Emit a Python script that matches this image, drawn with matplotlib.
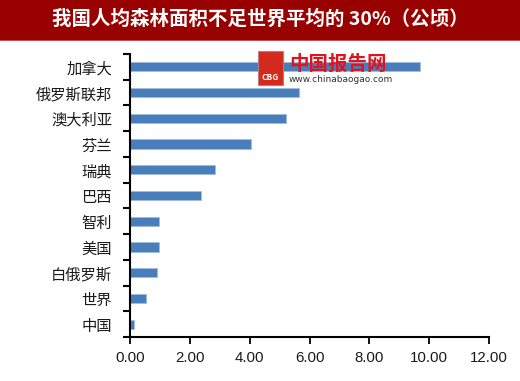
import matplotlib
matplotlib.use("Agg")
import matplotlib.pyplot as plt
from matplotlib.patches import Rectangle
import numpy as np

plt.rcParams['font.family'] = ['Noto Sans CJK SC', 'DejaVu Sans']

title = "我国人均森林面积不足世界平均的 30%（公顷）"
categories = ["加拿大", "俄罗斯联邦", "澳大利亚", "芬兰", "瑞典", "巴西",
              "智利", "美国", "白俄罗斯", "世界", "中国"]
values = [9.68, 5.65, 5.23, 4.05, 2.85, 2.36, 0.97, 0.96, 0.89, 0.52, 0.12]
xticks = [0, 2, 4, 6, 8, 10, 12]
xticklabels = ["0.00", "2.00", "4.00", "6.00", "8.00", "10.00", "12.00"]

W, H = 520, 381
fig = plt.figure(figsize=(W / 100, H / 100), dpi=100)
fig.patch.set_facecolor("white")

# title bar
fig.patches.append(Rectangle((0, 1 - 40 / H), 1, 40 / H, transform=fig.transFigure,
                             facecolor="#990000", edgecolor="none", zorder=0))
fig.patches.append(Rectangle((0, 1 - 41 / H), 1, 1.2 / H, transform=fig.transFigure,
                             facecolor="#c0504d", edgecolor="none", zorder=0))
fig.text(0.5, 1 - 19 / H, title, color="white", fontsize=14, fontweight="bold",
         ha="center", va="center")

ax = fig.add_axes([130 / W, 44 / H, (489 - 130) / W, (337 - 54) / H])
n = len(categories)
ypos = np.arange(n)
ax.barh(ypos, values, height=0.36, color="#4a7ebb", edgecolor="#9fbde0", linewidth=0.6)
ax.set_ylim(n - 0.5, -0.5)
ax.set_xlim(0, 12)

ax.set_yticks(ypos)
ax.set_yticklabels(categories, fontsize=11, color="#1a1a1a")
ax.tick_params(axis="y", which="major", length=0, pad=13)
ax.set_yticks(np.arange(-0.5, n, 1), minor=True)
ax.tick_params(axis="y", which="minor", length=5, width=1.5, direction="out", color="black")

ax.set_xticks(xticks)
ax.set_xticklabels(xticklabels, fontsize=10.8, family=["Liberation Sans", "DejaVu Sans"], color="#1a1a1a")
ax.tick_params(axis="x", length=5, width=1.3, direction="out", pad=5, color="black")

for s in ["top", "right"]:
    ax.spines[s].set_visible(False)
for s in ["left", "bottom"]:
    ax.spines[s].set_linewidth(1.5)
    ax.spines[s].set_color("black")

# watermark
fig.patches.append(Rectangle((258 / W, 1 - 85 / H), 25 / W, 34 / H, transform=fig.transFigure,
                             facecolor="#d42a1e", edgecolor="#b08080", linewidth=0.8, zorder=5))
fig.text(270.5 / W, 1 - 78 / H, "CBG", color="white", fontsize=6, fontweight="bold",
         ha="center", va="center", zorder=6)
fig.text(289 / W, 1 - 64 / H, "中国报告网", color="#e0141e", fontsize=14, fontweight="bold",
         ha="left", va="center", zorder=6)
fig.text(289 / W, 1 - 80 / H, "www.chinabaogao.com", color="#333333", fontsize=6.5,
         family=["DejaVu Sans"], ha="left", va="center", zorder=6)

fig.savefig("out.png", dpi=100, facecolor="white")
